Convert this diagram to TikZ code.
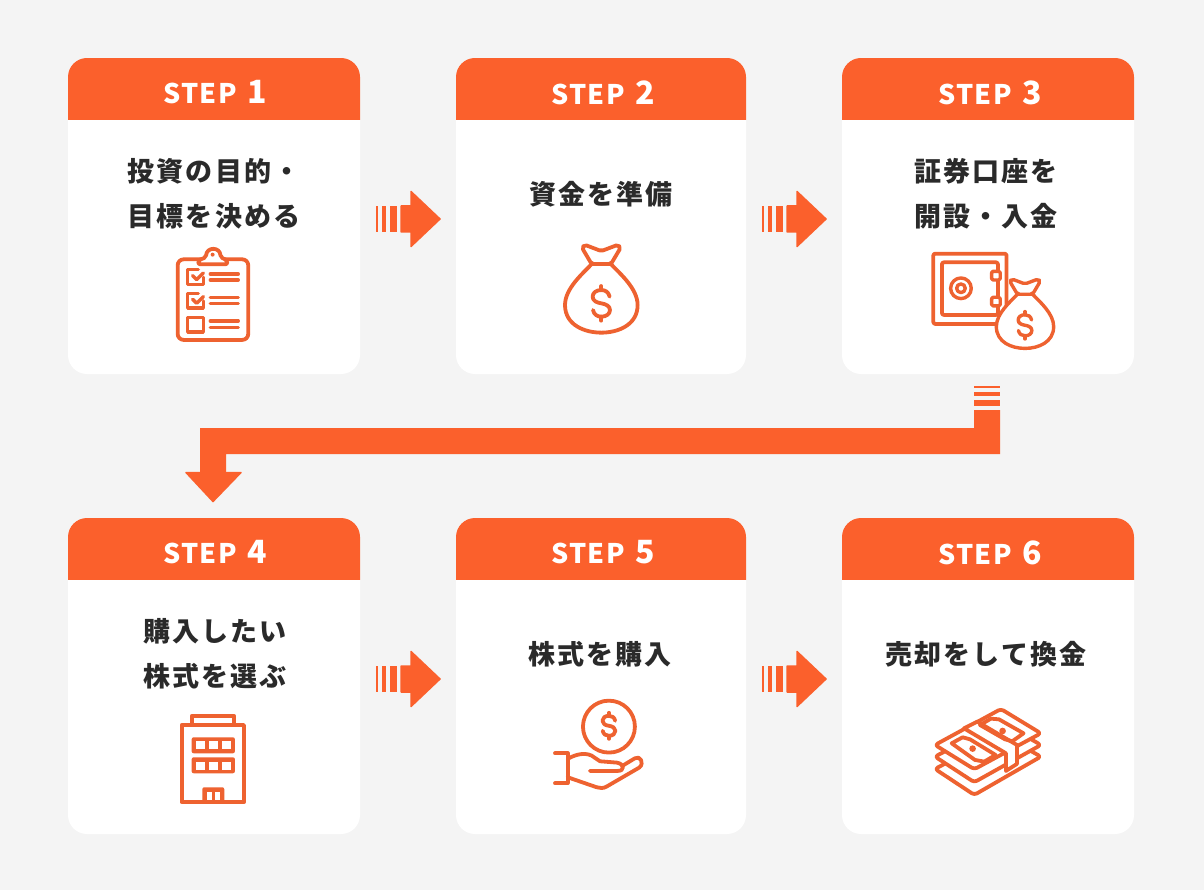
\documentclass[tikz,border=0pt]{standalone}
\usepackage{fontspec}
\setmainfont{Noto Sans CJK JP}
\newfontfamily\jptext[LetterSpace=8]{Noto Sans CJK JP}
\newfontfamily\steptext[LetterSpace=5]{Noto Sans CJK JP}
\definecolor{steporange}{HTML}{FB602C}
\definecolor{iconorange}{HTML}{EE6230}
\definecolor{pagegray}{HTML}{F4F4F4}
\definecolor{inkgray}{HTML}{2A2A2A}
\newcommand{\dollarmark}[1]{
	\draw[#1] (25,-10) .. controls (22,-24) and (12,-30) .. (0,-30) .. controls (-15,-30) and (-26,-22) .. (-26,-10)
		.. controls (-26,2) and (-14,8) .. (0,10) .. controls (14,12) and (26,18) .. (26,30)
		.. controls (26,42) and (15,50) .. (0,50) .. controls (-12,50) and (-22,44) .. (-25,30);
	\draw[#1] (0,-42)--(0,-30);
	\draw[#1] (0,50)--(0,62);
}
\tikzset{
	stepcard/.style={rectangle, rounded corners=19pt, fill=white, minimum height=316pt, inner sep=0pt,
		path picture={\fill[steporange,sharp corners] (path picture bounding box.north west) rectangle ++(300,62);}},
	stephead/.style={text=white, font=\steptext\bfseries\fontsize{27}{27}\selectfont, inner sep=0pt},
	stepbody/.style={text=inkgray, font=\jptext\bfseries\fontsize{27}{45}\selectfont, align=center, inner sep=0pt},
	icon/.style={draw=iconorange, line width=3.8pt, line join=round, line cap=round},
	thinicon/.style={icon, line width=3.4pt},
	moneybag/.pic={
		\draw[pic actions,fill=white] (-29,-98) .. controls (-55,-70) and (-109,-25) .. (-109,25)
			.. controls (-109,85) and (-50,108) .. (0,108) .. controls (50,108) and (109,85) .. (109,25)
			.. controls (109,-25) and (55,-70) .. (29,-98) -- cycle;
		\draw[pic actions,fill=white,rounded corners=2pt] (-29,-98) -- (-58,-147) -- (-50,-156) -- (0,-137) -- (50,-156) -- (58,-147) -- (29,-98) -- cycle;
		\begin{scope}[shift={(0,10)}]
			\dollarmark{pic actions}
		\end{scope}
	},
	stripearrow/.pic={
		\fill[steporange] (0,-13) rectangle (2,13);
		\fill[steporange] (6,-13) rectangle (10,13);
		\fill[steporange] (14,-13) rectangle (20.5,13);
		\fill[steporange,draw=steporange,line width=1.5pt,line join=round] (25,-13) -- (35,-13) -- (35,-27.5) -- (64,0) -- (35,27.5) -- (35,13) -- (25,13) -- cycle;
	},
}
\begin{document}
\begin{tikzpicture}[x=1pt,y=-1pt]
	\fill[pagegray] (0,0) rectangle (1204,890);
	\useasboundingbox (0,0) rectangle (1204,890);

	%cards
	\node[stepcard, minimum width=292pt] (card1) at (214,216) {};
	\node[stepcard, minimum width=290pt] (card2) at (601,216) {};
	\node[stepcard, minimum width=292pt] (card3) at (988,216) {};
	\node[stepcard, minimum width=292pt] (card4) at (214,676) {};
	\node[stepcard, minimum width=290pt] (card5) at (601,676) {};
	\node[stepcard, minimum width=292pt] (card6) at (988,676) {};

	%headers
	\node[stephead] (head1) at (215,92.5) {STEP\hspace{3pt} {\fontsize{32}{32}\selectfont 1}};
	\node[stephead] (head2) at (603,92.5) {STEP\hspace{3pt} {\fontsize{32}{32}\selectfont 2}};
	\node[stephead] (head3) at (990,92.5) {STEP\hspace{3pt} {\fontsize{32}{32}\selectfont 3}};
	\node[stephead] (head4) at (215,552.5) {STEP\hspace{3pt} {\fontsize{32}{32}\selectfont 4}};
	\node[stephead] (head5) at (603,552.5) {STEP\hspace{3pt} {\fontsize{32}{32}\selectfont 5}};
	\node[stephead] (head6) at (990,552.5) {STEP\hspace{3pt} {\fontsize{32}{32}\selectfont 6}};

	%card texts
	\node[stepbody] (text1) at (214,194) {投資の目的・\\目標を決める};
	\node[stepbody] (text2) at (601,194) {資金を準備};
	\node[stepbody] (text3) at (986,194) {証券口座を\\開設・入金};
	\node[stepbody] (text4) at (215,654) {購入したい\\株式を選ぶ};
	\node[stepbody] (text5) at (600,654) {株式を購入};
	\node[stepbody] (text6) at (986,654) {売却をして換金};

	%arrows between cards
	\coordinate (arrow12) at (376,219);
	\coordinate (arrow23) at (762,219);
	\coordinate (arrow45) at (376,679);
	\coordinate (arrow56) at (762,679);
	\pic at (arrow12) {stripearrow};
	\pic at (arrow23) {stripearrow};
	\pic at (arrow45) {stripearrow};
	\pic at (arrow56) {stripearrow};

	%long arrow card3 to card4
	\fill[steporange] (974,386) rectangle (1000,388);
	\fill[steporange] (974,392) rectangle (1000,396);
	\fill[steporange] (974,400) rectangle (1000,406);
	\fill[steporange,draw=steporange,line width=1.5pt,line join=round] (200,472.5) -- (186,472.5) -- (213,501.5) -- (241,472.5) -- (226,472.5) -- cycle;
	\fill[steporange] (974,410) -- (1000,410) -- (1000,454) -- (226,454) -- (226,473) -- (200,473) -- (200,428) -- (974,428) -- cycle;

	%clipboard
	\begin{scope}[shift={(170,245)},x=.333pt,y=-.333pt]
		\draw[icon,rounded corners=6pt] (23,43) rectangle (235,285);
		\draw[icon,fill=white,rounded corners=2pt] (85,58) -- (85,46) -- (108,37) .. controls (110,5) and (150,5) .. (152,37) -- (172,46) -- (172,58) -- cycle;
		\fill[iconorange] (128,29) circle (6);
		\draw[thinicon] (100,97) -- (100,119) -- (53,119) -- (53,73) -- (85,73);
		\draw[thinicon] (68,92) -- (80,104) -- (100,84);
		\draw[thinicon] (100,168) -- (100,189) -- (53,189) -- (53,145) -- (85,145);
		\draw[thinicon] (68,163) -- (80,175) -- (100,155);
		\draw[thinicon] (53,217) rectangle (100,261);
		\draw[thinicon] (121,87) -- (205,87);
		\draw[thinicon] (121,105) -- (205,105);
		\draw[thinicon] (121,158) -- (205,158);
		\draw[thinicon] (121,176) -- (205,176);
		\draw[thinicon] (121,228) -- (205,228);
		\draw[thinicon] (121,247) -- (205,247);
	\end{scope}

	%bag
	\begin{scope}[shift={(601.3,296.7)},x=.333pt,y=-.333pt]
		\pic[icon] at (0,0) {moneybag};
	\end{scope}

	%safe
	\begin{scope}[shift={(900,240)},x=.333pt,y=-.333pt]
		\draw[icon,rounded corners=2pt] (100,41) rectangle (320,252);
		\draw[icon,rounded corners=2pt] (126,67) rectangle (294,225);
		\draw[thinicon] (183,145) circle (31);
		\draw[thinicon] (183,145) circle (13);
		\draw[thinicon,fill=white,rounded corners=1.5pt] (275,94) rectangle (301,120);
		\draw[thinicon,fill=white,rounded corners=1.5pt] (275,172) rectangle (301,198);
	\end{scope}
	\begin{scope}[shift={(1025,320)},x=.263pt,y=-.263pt]
		\pic[thinicon] at (0,0) {moneybag};
	\end{scope}

	%building
	\begin{scope}[shift={(170,705)},x=.333pt,y=-.333pt]
		\draw[icon] (35,60) rectangle (222,292);
		\draw[icon] (66,60) -- (66,32) -- (192,32) -- (192,60);
		\fill[iconorange,rounded corners=2pt] (65,97) rectangle (195,145);
		\fill[iconorange,rounded corners=2pt] (65,157) rectangle (195,205);
		\fill[white] (78,108) rectangle (105,133);
		\fill[white] (117,108) rectangle (143,133);
		\fill[white] (156,108) rectangle (183,133);
		\fill[white] (78,170) rectangle (105,195);
		\fill[white] (117,170) rectangle (143,195);
		\fill[white] (156,170) rectangle (183,195);
		\fill[iconorange,rounded corners=2pt] (97,247) rectangle (163,295);
		\fill[white] (110,260) rectangle (125,285);
		\fill[white] (135,260) rectangle (150,285);
	\end{scope}

	%hand and coin
	\begin{scope}[shift={(545,690)},x=.333pt,y=-.333pt]
		\draw[icon] (192,110) circle (78);
		\begin{scope}[shift={(192,100)},x=.25pt,y=-.25pt]
			\dollarmark{icon}
		\end{scope}
		\draw[icon] (30,190) -- (68,190) -- (68,280) -- (30,280);
		\draw[icon] (68,207) .. controls (85,197) and (115,185) .. (140,197) -- (165,214) -- (215,218)
			.. controls (240,222) and (240,243) .. (218,243) -- (135,243);
		\draw[icon] (232,228) -- (270,205) .. controls (285,195) and (300,220) .. (283,233)
			-- (185,290) .. controls (175,296) and (165,295) .. (155,292) -- (68,262);
	\end{scope}

	%bills
	\begin{scope}[shift={(925,700)},x=.333pt,y=-.333pt]
		\draw[icon,fill=white,rounded corners=3pt] (30,207) -- (228,103) -- (348,170) -- (148,285) -- cycle;
		\draw[icon,fill=white,rounded corners=3pt] (30,170) -- (228,65) -- (348,135) -- (148,247) -- cycle;
		\draw[icon,fill=white,rounded corners=3pt] (30,135) -- (228,27) -- (348,100) -- (148,208) -- cycle;
		\draw[icon,fill=white] (117,85) -- (243,160) -- (243,213) -- (276,192) -- (276,135) -- (157,65) -- cycle;
		\draw[icon] (80,130) -- (113,112) -- (135,118) -- (212,165) -- (178,185) -- (150,180) -- cycle;
		\draw[icon] (165,75) -- (198,56) -- (222,58) -- (296,100) -- (262,124) -- (240,118) -- cycle;
		\fill[iconorange] (143,146) circle (10);
		\fill[iconorange] (233,93) circle (10);
	\end{scope}
\end{tikzpicture}
\end{document}
